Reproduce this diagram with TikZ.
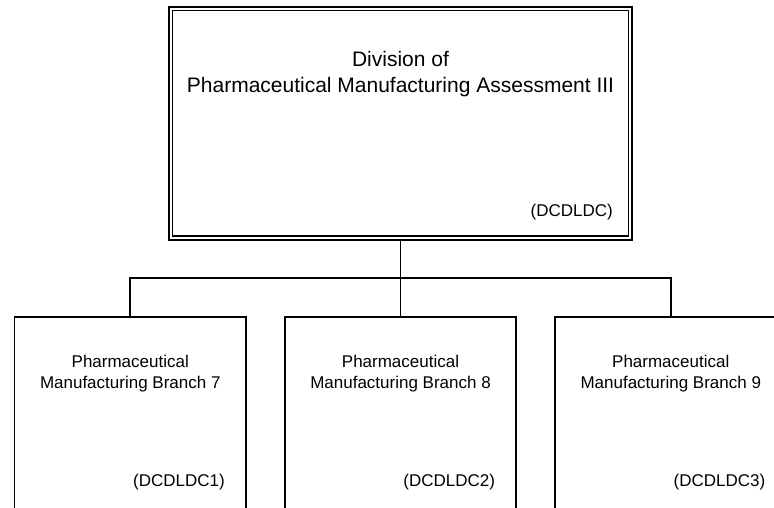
\documentclass[tikz,border=0pt]{standalone}
\usepackage{fontspec}
\setmainfont{Liberation Sans}
\usetikzlibrary{positioning}

\tikzset{
  box/.style={draw, rectangle, line width=1.6pt, inner sep=0pt, outer sep=0pt},
  divbox/.style={box, double, double distance=2pt, outer sep=2.6pt,
    minimum width=459.8pt, minimum height=229.3pt},
  branchbox/.style={box, minimum width=231.5pt, minimum height=210pt, anchor=north},
  link/.style={line width=1.6pt},
  bigtext/.style={font=\fontsize{21}{26}\selectfont, align=center, inner sep=0pt},
  smalltext/.style={font=\fontsize{17}{21}\selectfont, align=center, inner sep=0pt}
}

\begin{document}
\begin{tikzpicture}[x=1pt,y=-1pt]
\useasboundingbox (0,0) rectangle (774,507);
\clip (0,0) rectangle (774,507);
% division
\node[divbox] (div) at (400.5,123.25) {};
\node[bigtext, anchor=north] (divname) at (400.5,50.7) {Division of\\Pharmaceutical Manufacturing Assessment III};
\node[smalltext, anchor=base east] (divcode) at (613,216) {(DCDLDC)};
% branches
\node[branchbox] (br7) at (130.25,317) {};
\node[branchbox, right=38.75pt of br7] (br8) {};
\node[branchbox, right=38.75pt of br8] (br9) {};
\node[smalltext, anchor=north] (br7name) at (130.25,355.3) {Pharmaceutical\\Manufacturing Branch 7};
\node[smalltext, anchor=north] (br8name) at (400.5,355.3) {Pharmaceutical\\Manufacturing Branch 8};
\node[smalltext, anchor=north] (br9name) at (670.75,355.3) {Pharmaceutical\\Manufacturing Branch 9};
\node[smalltext, anchor=base east] (br7code) at (225,486.7) {(DCDLDC1)};
\node[smalltext, anchor=base east] (br8code) at (495.25,486.7) {(DCDLDC2)};
\node[smalltext, anchor=base east] (br9code) at (765.5,486.7) {(DCDLDC3)};
% lines
\coordinate (bus) at (400.5,278);
\draw[link] (div.south) -- (br8.north);
\draw[link] (br7.north) |- (bus) -| (br9.north);
\end{tikzpicture}
\end{document}
